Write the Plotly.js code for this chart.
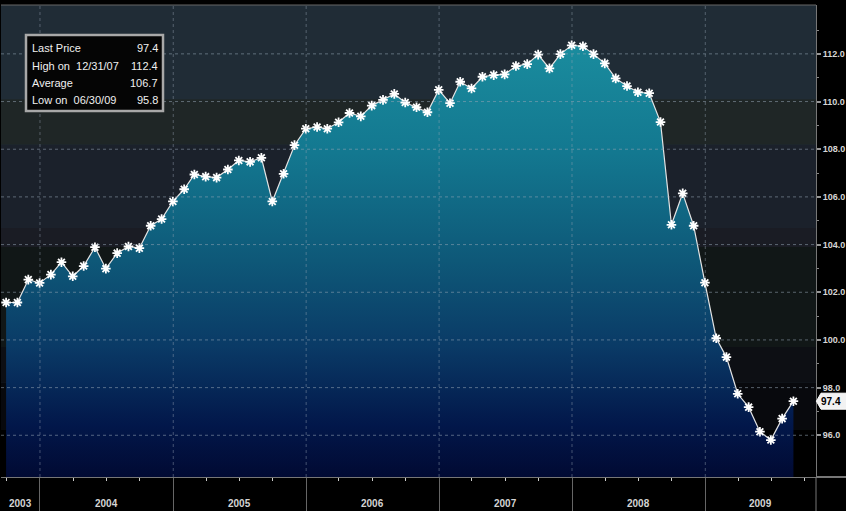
<!DOCTYPE html>
<html>
<head>
<meta charset="utf-8">
<script src="https://cdn.plot.ly/plotly-3.0.1.min.js"></script>
<style>html,body{margin:0;padding:0;background:#000;overflow:hidden}#chart{width:846px;height:511px}</style>
</head>
<body>
<div id="chart"></div>
<script>
// ---- data (month-end prices) ----
const dates = [
  '2003-09-30','2003-10-31','2003-11-30','2003-12-31',
  '2004-01-31','2004-02-29','2004-03-31','2004-04-30','2004-05-31','2004-06-30','2004-07-31','2004-08-31','2004-09-30','2004-10-31','2004-11-30','2004-12-31',
  '2005-01-31','2005-02-28','2005-03-31','2005-04-30','2005-05-31','2005-06-30','2005-07-31','2005-08-31','2005-09-30','2005-10-31','2005-11-30','2005-12-31',
  '2006-01-31','2006-02-28','2006-03-31','2006-04-30','2006-05-31','2006-06-30','2006-07-31','2006-08-31','2006-09-30','2006-10-31','2006-11-30','2006-12-31',
  '2007-01-31','2007-02-28','2007-03-31','2007-04-30','2007-05-31','2007-06-30','2007-07-31','2007-08-31','2007-09-30','2007-10-31','2007-11-30','2007-12-31',
  '2008-01-31','2008-02-29','2008-03-31','2008-04-30','2008-05-31','2008-06-30','2008-07-31','2008-08-31','2008-09-30','2008-10-31','2008-11-30','2008-12-31',
  '2009-01-31','2009-02-28','2009-03-31','2009-04-30','2009-05-31','2009-06-30','2009-07-31','2009-08-31'
];
const prices = [
  101.57,101.57,102.53,102.39,
  102.74,103.26,102.67,103.10,103.89,102.99,103.64,103.92,103.85,104.79,105.07,105.81,
  106.32,106.94,106.85,106.81,107.15,107.53,107.47,107.64,105.81,106.97,108.17,108.86,
  108.93,108.86,109.13,109.52,109.38,109.83,110.07,110.32,109.96,109.76,109.55,110.49,
  109.93,110.83,110.55,111.04,111.11,111.14,111.49,111.57,111.97,111.39,111.99,112.36,
  112.32,111.99,111.60,110.97,110.65,110.39,110.35,109.14,104.83,106.15,104.79,102.40,
  100.07,99.28,97.74,97.18,96.15,95.80,96.70,97.43
];
const yTicks = [96,98,100,102,104,106,108,110,112];
const yearStarts = ['2003-01-01','2004-01-01','2005-01-01','2006-01-01','2007-01-01','2008-01-01','2009-01-01','2010-01-01'];
const yearLabels = ['2003','2004','2005','2006','2007','2008','2009'];
const statLabels = ['Last Price','High on  12/31/07','Average','Low on  06/30/09'];
const statValues = ['97.4','112.4','106.7','95.8'];
const lastPriceLabel = '97.4';

// ---- style ----
const FONT = "'Liberation Sans','Arial',sans-serif";
const xRange = ['2003-09-16','2009-11-01'];
const yRange = [94.25, 114.05];
const bandEdges = [94.25, 96.25, 98.2, 99.7, 103.9, 104.7, 108.2, 110.1, 114.05];
const bandColors = ['#000000','#08090d','#0d0f14','#111717','#1a1c24','#1b212b','#1f2626','#202c36'];

const W = 846, H = 511, ML = 1, MR = 30, MT = 5, MB = 34;
const pw = W - ML - MR, ph = H - MT - MB;
const px = p => (p - ML) / pw, py = p => (H - MB - p) / ph;

const shapes = [];
for (let i = 0; i < bandColors.length; i++) {
  shapes.push({type:'rect', xref:'x', yref:'y', x0:xRange[0], x1:xRange[1], y0:bandEdges[i], y1:bandEdges[i+1],
    fillcolor:bandColors[i], line:{width:0}, layer:'below'});
}
yTicks.forEach(v => shapes.push({type:'line', xref:'x', yref:'y', x0:xRange[0], x1:xRange[1], y0:v, y1:v,
  line:{color:'rgba(150,165,180,0.55)', width:1, dash:'dot'}, layer:'above'}));
yearStarts.slice(1, -1).forEach(d => shapes.push({type:'line', xref:'x', yref:'y', x0:d, x1:d, y0:yRange[0], y1:yRange[1],
  line:{color:'rgba(150,165,180,0.45)', width:1, dash:'dot'}, layer:'above'}));
shapes.push({type:'line', xref:'paper', yref:'paper', x0:0, x1:1, y0:1, y1:1, line:{color:'#666', width:1}});
shapes.push({type:'line', xref:'paper', yref:'paper', x0:1, x1:1.06, y0:0, y1:0, line:{color:'#777', width:2}});
shapes.push({type:'line', xref:'paper', yref:'paper', x0:1, x1:1, y0:0, y1:-0.08, line:{color:'#777', width:1}});
// stats box
shapes.push({type:'rect', xref:'paper', yref:'paper', x0:px(26), x1:px(163), y0:py(111), y1:py(35),
  fillcolor:'#050505', line:{color:'#a8a8a8', width:2.5}});
// last price tag
const lastY = (prices[prices.length-1] - yRange[0]) / (yRange[1] - yRange[0]);
const th = 8 / ph;
shapes.push({type:'path', xref:'paper', yref:'paper',
  path:`M 1.0005 ${lastY} L ${1+5/pw} ${lastY+th} L 1.045 ${lastY+th} L 1.045 ${lastY-th} L ${1+5/pw} ${lastY-th} Z`,
  fillcolor:'#f2f2f2', line:{color:'#ffffff', width:1}});

const annotations = [];
const t0 = new Date(xRange[0]).getTime(), t1 = new Date(xRange[1]).getTime();
yearLabels.forEach((lab, i) => {
  const a = Math.max(new Date(yearStarts[i]).getTime(), t0);
  const b = Math.min(new Date(yearStarts[i+1]).getTime(), t1);
  const mid = new Date((a + b) / 2).toISOString().slice(0, 10);
  annotations.push({x:mid, xref:'x', y:-0.057, yref:'paper', text:lab, showarrow:false,
    xanchor:'center', yanchor:'middle', font:{family:FONT, size:10, color:'#d4d4d4', weight:'bold'}});
});
const rowY = [48, 65.5, 83, 100.5];
statLabels.forEach((lab, i) => {
  annotations.push({x:px(30), xref:'paper', y:py(rowY[i]), yref:'paper', text:lab, showarrow:false,
    xanchor:'left', yanchor:'middle', font:{family:FONT, size:11, color:'#f0f0f0'}});
  annotations.push({x:px(160), xref:'paper', y:py(rowY[i]), yref:'paper', text:statValues[i], showarrow:false,
    xanchor:'right', yanchor:'middle', font:{family:FONT, size:11, color:'#f0f0f0'}});
});
annotations.push({x:1 + 3/pw, xref:'paper', y:lastY, yref:'paper', text:lastPriceLabel, showarrow:false,
  xanchor:'left', yanchor:'middle', font:{family:FONT, size:10, color:'#000', weight:'bold'}});

const trace = {
  x: dates, y: prices, type:'scatter', mode:'lines+markers', fill:'tozeroy',
  fillgradient:{type:'vertical', start:yRange[0], stop:112.4,
    colorscale:[[0,'#010a33'],[0.12,'#02174a'],[0.3,'#0a3a66'],[0.5,'#0e5878'],[0.75,'#137890'],[1,'#1a8c9e']]},
  line:{color:'#e4e4e4', width:1.2},
  marker:{symbol:'asterisk-open', size:8, color:'#ffffff', line:{color:'#ffffff', width:1.8}},
  hoverinfo:'skip'
};

const layout = {
  width:W, height:H,
  margin:{l:ML, r:MR, t:MT, b:MB, pad:0},
  paper_bgcolor:'#000000', plot_bgcolor:'#202c36',
  showlegend:false,
  xaxis:{type:'date', range:xRange, showgrid:false, zeroline:false,
    tickmode:'linear', tick0:'2004-01-01', dtick:'M12', ticks:'outside', ticklen:34, tickwidth:1, tickcolor:'#666',
    showticklabels:false, showline:true, linecolor:'#777', linewidth:1,
    minor:{tickmode:'linear', tick0:'2003-01-01', dtick:'M3', ticks:'outside', ticklen:3, tickwidth:1, tickcolor:'#cccccc', showgrid:false}},
  yaxis:{side:'right', range:yRange, showgrid:false, zeroline:false,
    tickmode:'array', tickvals:yTicks, tickformat:'.1f', ticks:'outside', ticklen:4, tickwidth:2, tickcolor:'#999',
    showline:true, linecolor:'#777', linewidth:1,
    tickfont:{family:FONT, size:9, color:'#d6d6d6', weight:'bold'},
    minor:{tickmode:'array', tickvals:yTicks.map(v => v + 1), ticks:'outside', ticklen:2, tickwidth:1, tickcolor:'#888', showgrid:false}},
  shapes:shapes, annotations:annotations
};

Plotly.newPlot('chart', [trace], layout, {staticPlot:true, displayModeBar:false});
</script>
</body>
</html>
